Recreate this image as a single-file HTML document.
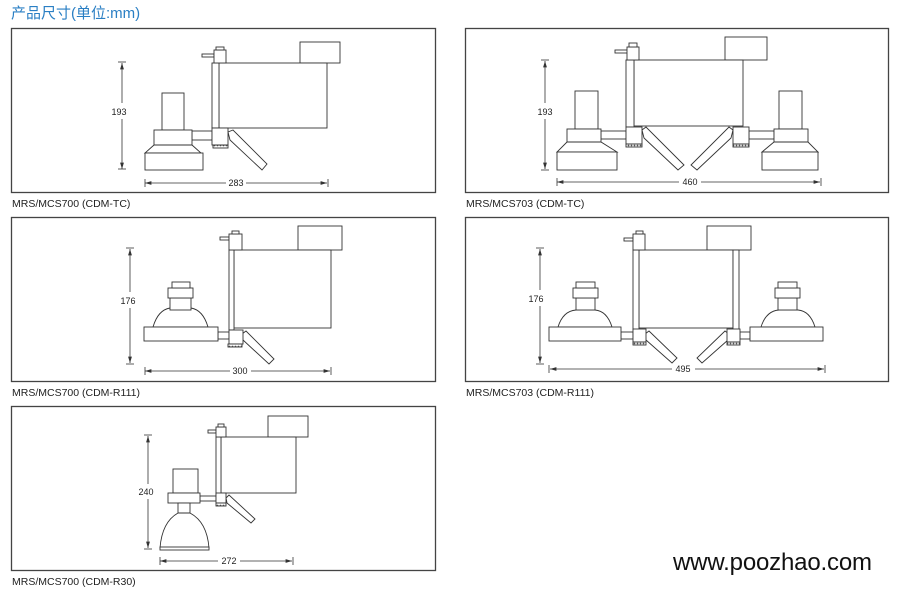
<!DOCTYPE html>
<html><head><meta charset="utf-8"><style>
html,body{margin:0;padding:0;background:#fff;}
svg{display:block;}
</style></head><body>
<svg width="900" height="591" viewBox="0 0 900 591" xmlns="http://www.w3.org/2000/svg">
<defs>
<marker id="a" viewBox="0 0 10 6" refX="10" refY="3" markerWidth="8" markerHeight="5" orient="auto-start-reverse"><path d="M0,0L10,3L0,6z" fill="#333"/></marker>
<pattern id="k" width="3" height="3" patternUnits="userSpaceOnUse"><rect width="3" height="3" fill="#fff"/><circle cx="1.5" cy="1.5" r="0.9" fill="#555"/></pattern>
</defs>
<text x="11" y="18" font-family="'Liberation Sans','Noto Sans CJK SC',sans-serif" font-size="15" fill="#2a7fc4">产品尺寸(单位:mm)</text>
<g fill="none" stroke="#444" stroke-width="1.3">
<rect x="11.5" y="28.5" width="424" height="164"/>
<rect x="465.5" y="28.5" width="423" height="164"/>
<rect x="11.5" y="217.5" width="424" height="164"/>
<rect x="465.5" y="217.5" width="423" height="164"/>
<rect x="11.5" y="406.5" width="424" height="164"/>
</g>
<g font-family="'Liberation Sans',sans-serif" font-size="10.5" fill="#222">
<text x="12" y="207">MRS/MCS700 (CDM-TC)</text>
<text x="466" y="207">MRS/MCS703 (CDM-TC)</text>
<text x="12" y="396">MRS/MCS700 (CDM-R111)</text>
<text x="466" y="396">MRS/MCS703 (CDM-R111)</text>
<text x="12" y="585">MRS/MCS700 (CDM-R30)</text>
</g>
<text x="673" y="570" font-family="'Liberation Sans',sans-serif" font-size="24" textLength="199" fill="#111">www.poozhao.com</text>

<g fill="#fff" stroke="#333" stroke-width="0.9">
<rect x="300" y="42" width="40" height="21"/>
<rect x="219" y="63" width="108" height="65"/>
<rect x="212" y="63" width="7" height="65"/>
<rect x="202" y="54" width="12" height="3"/>
<rect x="214" y="50" width="12" height="13"/>
<rect x="216" y="47" width="8" height="3"/>
<polygon points="228,132 233,130 267,164 262,170 230,140"/>
<rect x="192" y="131" width="20" height="9"/>
<rect x="212" y="128" width="16" height="17"/>
<rect x="213" y="145" width="15" height="3" fill="url(#k)"/>
<rect x="162" y="93" width="22" height="37"/>
<rect x="154" y="130" width="38" height="15"/>
<polygon points="154,145 192,145 201,153 145,153"/>
<rect x="145" y="153" width="58" height="17"/>
<rect x="725" y="37" width="42" height="23"/>
<rect x="634" y="60" width="109" height="66"/>
<rect x="626" y="60" width="8" height="67"/>
<rect x="615" y="50" width="15" height="3"/>
<rect x="627" y="47" width="12" height="13"/>
<rect x="629" y="43" width="8" height="4"/>
<polygon points="642,130 646,127 684,165 678,170 644,138"/>
<polygon points="733,130 729,127 691,165 697,170 731,138"/>
<rect x="601" y="131" width="25" height="8"/>
<rect x="626" y="127" width="16" height="17"/>
<rect x="626" y="144" width="16" height="3" fill="url(#k)"/>
<rect x="749" y="131" width="25" height="8"/>
<rect x="733" y="127" width="16" height="17"/>
<rect x="733" y="144" width="16" height="3" fill="url(#k)"/>
<rect x="575" y="91" width="23" height="38"/>
<rect x="567" y="129" width="34" height="13"/>
<polygon points="567,142 601,142 617,152 557,152"/>
<rect x="557" y="152" width="60" height="18"/>
<rect x="779" y="91" width="23" height="38"/>
<rect x="774" y="129" width="34" height="13"/>
<polygon points="774,142 808,142 818,152 762,152"/>
<rect x="762" y="152" width="56" height="18"/>
<rect x="298" y="226" width="44" height="24"/>
<rect x="234" y="250" width="97" height="78"/>
<rect x="229" y="250" width="5" height="80"/>
<rect x="220" y="237" width="9" height="3"/>
<rect x="229" y="234" width="13" height="16"/>
<rect x="232" y="231" width="7" height="3"/>
<polygon points="242,334 246,331 274,359 269,364 243,340"/>
<rect x="218" y="332" width="11" height="7"/>
<rect x="229" y="330" width="14" height="14"/>
<rect x="228" y="344" width="14" height="3" fill="url(#k)"/>
<path d="M153,327 Q158,310 170,308 L191,308 Q203,310 208,327 Z"/>
<rect x="170" y="298" width="21" height="12"/>
<rect x="168" y="288" width="25" height="10"/>
<rect x="172" y="282" width="18" height="6"/>
<rect x="144" y="327" width="74" height="14"/>
<rect x="707" y="226" width="44" height="24"/>
<rect x="639" y="250" width="94" height="78"/>
<rect x="633" y="250" width="6" height="80"/>
<rect x="733" y="250" width="6" height="80"/>
<rect x="624" y="238" width="9" height="3"/>
<rect x="633" y="234" width="12" height="16"/>
<rect x="636" y="231" width="7" height="3"/>
<polygon points="645,334 649,331 677,358 672,363 646,340"/>
<polygon points="729,334 725,331 697,358 702,363 728,340"/>
<rect x="621" y="332" width="12" height="7"/>
<rect x="633" y="329" width="13" height="13"/>
<rect x="633" y="342" width="13" height="3" fill="url(#k)"/>
<rect x="740" y="332" width="10" height="7"/>
<rect x="727" y="329" width="13" height="13"/>
<rect x="727" y="342" width="13" height="3" fill="url(#k)"/>
<path d="M558,327 Q563,311 576,310 L595,310 Q607,311 612,327 Z"/>
<rect x="576" y="298" width="19" height="12"/>
<rect x="573" y="288" width="25" height="10"/>
<rect x="576" y="282" width="19" height="6"/>
<rect x="549" y="327" width="72" height="14"/>
<path d="M761,327 Q766,311 779,310 L798,310 Q810,311 815,327 Z"/>
<rect x="778" y="298" width="19" height="12"/>
<rect x="775" y="288" width="25" height="10"/>
<rect x="778" y="282" width="19" height="6"/>
<rect x="750" y="327" width="73" height="14"/>
<rect x="268" y="416" width="40" height="21"/>
<rect x="221" y="437" width="75" height="56"/>
<rect x="216" y="437" width="5" height="58"/>
<rect x="208" y="430" width="8" height="3"/>
<rect x="216" y="427" width="10" height="10"/>
<rect x="218" y="424" width="6" height="3"/>
<polygon points="226,498 229,495 255,519 251,523 227,503"/>
<rect x="200" y="496" width="16" height="5"/>
<rect x="216" y="493" width="10" height="10"/>
<rect x="216" y="503" width="10" height="3" fill="url(#k)"/>
<rect x="173" y="469" width="25" height="24"/>
<rect x="168" y="493" width="32" height="10"/>
<rect x="178" y="503" width="12" height="10"/>
<path d="M178,513 Q162,522 160,548 L209,548 Q207,522 190,513 Z"/>
<rect x="160" y="547" width="49" height="3"/>
</g>

<g stroke="#333" stroke-width="0.8" fill="none">
<line x1="122" y1="63" x2="122" y2="103" marker-start="url(#a)"/><line x1="122" y1="119" x2="122" y2="169" marker-end="url(#a)"/>
<line x1="118" y1="62" x2="126" y2="62"/><line x1="118" y1="169" x2="126" y2="169"/>
<line x1="145" y1="183" x2="226" y2="183" marker-start="url(#a)"/><line x1="246" y1="183" x2="327" y2="183" marker-end="url(#a)"/>
<line x1="145" y1="179" x2="145" y2="187"/><line x1="328" y1="179" x2="328" y2="187"/>
<line x1="545" y1="61" x2="545" y2="103" marker-start="url(#a)"/><line x1="545" y1="119" x2="545" y2="169" marker-end="url(#a)"/>
<line x1="541" y1="60" x2="549" y2="60"/><line x1="541" y1="170" x2="549" y2="170"/>
<line x1="557" y1="182" x2="679" y2="182" marker-start="url(#a)"/><line x1="701" y1="182" x2="820" y2="182" marker-end="url(#a)"/>
<line x1="557" y1="178" x2="557" y2="186"/><line x1="821" y1="178" x2="821" y2="186"/>
<line x1="130" y1="249" x2="130" y2="292" marker-start="url(#a)"/><line x1="130" y1="308" x2="130" y2="363" marker-end="url(#a)"/>
<line x1="126" y1="248" x2="134" y2="248"/><line x1="126" y1="364" x2="134" y2="364"/>
<line x1="145" y1="371" x2="230" y2="371" marker-start="url(#a)"/><line x1="251" y1="371" x2="330" y2="371" marker-end="url(#a)"/>
<line x1="145" y1="367" x2="145" y2="375"/><line x1="331" y1="367" x2="331" y2="375"/>
<line x1="540" y1="249" x2="540" y2="290" marker-start="url(#a)"/><line x1="540" y1="306" x2="540" y2="363" marker-end="url(#a)"/>
<line x1="536" y1="248" x2="544" y2="248"/><line x1="536" y1="364" x2="544" y2="364"/>
<line x1="550" y1="369" x2="672" y2="369" marker-start="url(#a)"/><line x1="695" y1="369" x2="824" y2="369" marker-end="url(#a)"/>
<line x1="549" y1="365" x2="549" y2="373"/><line x1="825" y1="365" x2="825" y2="373"/>
<line x1="148" y1="436" x2="148" y2="484" marker-start="url(#a)"/><line x1="148" y1="499" x2="148" y2="548" marker-end="url(#a)"/>
<line x1="144" y1="435" x2="152" y2="435"/><line x1="144" y1="549" x2="152" y2="549"/>
<line x1="160" y1="561" x2="218" y2="561" marker-start="url(#a)"/><line x1="240" y1="561" x2="292" y2="561" marker-end="url(#a)"/>
<line x1="160" y1="557" x2="160" y2="565"/><line x1="293" y1="557" x2="293" y2="565"/>
</g>
<g font-family="'Liberation Sans',sans-serif" font-size="9" fill="#222" text-anchor="middle">
<text x="119" y="115">193</text><text x="236" y="186">283</text>
<text x="545" y="115">193</text><text x="690" y="185">460</text>
<text x="128" y="304">176</text><text x="240" y="374">300</text>
<text x="536" y="302">176</text><text x="683" y="372">495</text>
<text x="146" y="495">240</text><text x="229" y="564">272</text>
</g>
</svg>
</body></html>
